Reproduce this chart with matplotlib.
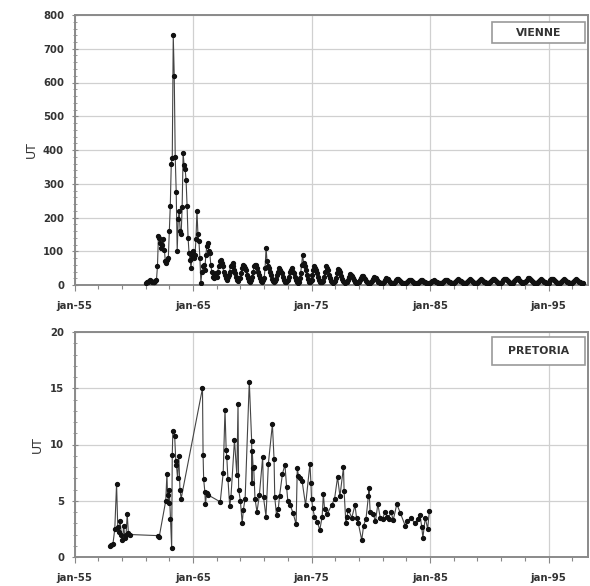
import numpy as np
import matplotlib
matplotlib.use("Agg")
import matplotlib.pyplot as plt
from matplotlib.patches import Rectangle

# ---------------- data ----------------
vienne_start_year = 1961
vienne_monthly = [
    [5, 8, 10, 12, 14, 12, 10, 9, 8, 10, 12, 15],            # 1961
    [55, 145, 140, 125, 110, 120, 135, 105, 70, 65, 75, 80],  # 1962
    [160, 235, 360, 375, 740, 620, 380, 275, 100, 195, 220, 160],  # 1963
    [150, 230, 390, 355, 345, 310, 235, 140, 95, 75, 50, 85],  # 1964
    [100, 80, 90, 135, 220, 150, 130, 80, 5, 40, 55, 60],     # 1965
    [45, 90, 115, 125, 100, 95, 60, 40, 25, 20, 30, 35],      # 1966
    [25, 40, 55, 70, 75, 65, 55, 40, 30, 20, 15, 25],         # 1967
    [30, 40, 55, 60, 65, 55, 45, 35, 25, 15, 12, 20],         # 1968
    [20, 35, 50, 60, 55, 50, 45, 30, 20, 12, 10, 15],         # 1969
    [25, 40, 55, 60, 60, 50, 40, 30, 20, 12, 10, 15],         # 1970
    [20, 50, 110, 70, 55, 50, 40, 30, 18, 12, 8, 12],         # 1971
    [18, 30, 40, 50, 45, 40, 35, 25, 15, 10, 8, 12],          # 1972
    [15, 25, 40, 45, 50, 40, 35, 25, 15, 10, 6, 10],          # 1973
    [20, 35, 60, 90, 65, 55, 45, 30, 18, 10, 8, 12],          # 1974
    [15, 30, 45, 55, 50, 45, 35, 25, 15, 10, 8, 10],          # 1975
    [12, 25, 40, 55, 50, 45, 30, 20, 12, 8, 6, 10],           # 1976
    [12, 22, 35, 48, 45, 38, 28, 18, 12, 8, 6, 8],            # 1977
    [10, 15, 25, 32, 30, 26, 20, 14, 10, 7, 5, 8],            # 1978
    [8, 14, 22, 28, 26, 22, 18, 12, 8, 6, 5, 7],              # 1979
    [8, 12, 18, 24, 22, 20, 15, 10, 8, 6, 5, 6],              # 1980
    [7, 10, 15, 20, 19, 17, 13, 9, 7, 5, 4, 6],               # 1981
    [6, 9, 14, 18, 17, 15, 12, 9, 6, 5, 4, 5],                # 1982
    [6, 9, 13, 16, 16, 14, 11, 8, 6, 5, 4, 5],                # 1983
    [6, 8, 11, 14, 14, 13, 10, 8, 6, 5, 4, 5],                # 1984
    [6, 8, 11, 13, 14, 12, 10, 8, 7, 6, 5, 6],                # 1985
    [7, 9, 12, 15, 16, 15, 13, 10, 8, 7, 6, 7],               # 1986
    [7, 9, 13, 16, 17, 15, 13, 11, 9, 7, 6, 7],               # 1987
    [6, 9, 12, 15, 18, 16, 14, 11, 8, 7, 5, 7],               # 1988
    [7, 10, 13, 16, 17, 16, 13, 10, 8, 6, 5, 6],              # 1989
    [6, 9, 12, 16, 18, 17, 14, 11, 8, 6, 5, 7],               # 1990
    [7, 10, 14, 17, 19, 17, 14, 11, 9, 7, 6, 7],              # 1991
    [7, 11, 15, 19, 22, 20, 16, 12, 9, 7, 6, 8],              # 1992
    [8, 12, 16, 20, 22, 19, 15, 11, 9, 7, 6, 7],              # 1993
    [7, 10, 13, 16, 18, 16, 13, 10, 8, 6, 5, 7],              # 1994
    [7, 10, 14, 17, 19, 17, 14, 11, 8, 7, 6, 7],              # 1995
    [7, 10, 13, 16, 18, 16, 13, 10, 8, 6, 5, 6],              # 1996
    [6, 9, 12, 15, 17, 15, 12, 10, 8, 6, 5, 6],               # 1997
]

pretoria_years = [
    1958.00, 1958.10, 1958.25, 1958.40, 1958.55, 1958.65, 1958.75, 1958.85, 1958.95,
    1959.05, 1959.15, 1959.25, 1959.35, 1959.45, 1959.55, 1959.65,
    1962.05, 1962.15,
    1962.70, 1962.80, 1962.85, 1962.95, 1963.00, 1963.10, 1963.20, 1963.25, 1963.30,
    1963.45, 1963.55, 1963.60, 1963.70, 1963.80, 1963.90, 1964.00,
    1965.80, 1965.85, 1965.90, 1966.00, 1966.05, 1966.15, 1966.30,
    1967.30, 1967.55, 1967.70, 1967.80, 1967.85, 1967.95, 1968.10, 1968.20,
    1968.50, 1968.80, 1968.70, 1968.85, 1969.00, 1969.15, 1969.25, 1969.40,
    1969.75, 1969.95, 1970.00, 1969.98, 1970.08, 1970.12, 1970.23, 1970.40,
    1970.60, 1970.88, 1970.95, 1971.16, 1971.36, 1971.70, 1971.84, 1971.90,
    1972.05, 1972.20, 1972.30, 1972.55, 1972.76, 1972.90, 1973.00, 1973.20,
    1973.45, 1973.70, 1973.80, 1973.90, 1974.00, 1974.20, 1974.50, 1974.87,
    1974.95, 1975.00, 1975.10, 1975.25, 1975.50, 1975.70, 1975.90, 1976.00,
    1976.10, 1976.30, 1976.70, 1976.95, 1977.20, 1977.40, 1977.70, 1977.75,
    1977.90, 1978.00, 1978.10, 1978.40, 1978.67, 1978.80, 1978.95, 1979.24,
    1979.40, 1979.60, 1979.80, 1979.85, 1979.95, 1980.20, 1980.40, 1980.60,
    1980.80, 1981.00, 1981.20, 1981.40, 1981.50, 1981.70, 1981.90, 1982.20,
    1982.50, 1982.90, 1983.10, 1983.40, 1983.70, 1984.00, 1984.16, 1984.30,
    1984.40, 1984.60, 1984.80, 1984.95,
]
pretoria_values = [
    0.95, 1.05, 1.2, 2.5, 6.5, 2.7, 2.2, 3.2, 2.0,
    1.5, 2.8, 1.7, 2.0, 3.8, 2.1, 2.0,
    1.9, 1.8,
    5.0, 7.4, 5.5, 4.8, 6.0, 3.4, 0.8, 9.1, 11.2,
    10.8, 8.5, 8.2, 7.0, 9.0, 6.0, 5.2,
    15.0, 9.1, 6.9, 5.8, 4.7, 5.7, 5.5,
    4.9, 7.5, 13.1, 9.5, 8.9, 6.9, 4.5, 5.3,
    10.4, 13.6, 7.3, 6.0, 5.0, 3.0, 4.2, 5.2,
    15.6, 10.3, 9.4, 6.6, 7.9, 8.0, 5.2, 4.0,
    5.5, 8.9, 5.3, 3.6, 8.3, 11.8, 8.7, 5.3,
    3.7, 4.3, 5.4, 7.4, 8.2, 6.2, 5.0, 4.6,
    3.9, 2.9, 7.9, 7.2, 7.0, 6.8, 4.6, 8.3,
    6.6, 5.2, 4.4, 3.6, 3.1, 2.4, 3.6, 5.6,
    4.3, 3.8, 4.6, 5.2, 7.1, 5.4, 8.0, 5.9,
    3.0, 3.6, 4.2, 3.5, 4.6, 3.5, 3.0, 1.5,
    2.8, 3.4, 5.4, 6.1, 4.0, 3.8, 3.2, 4.7,
    3.5, 3.4, 4.0, 3.6, 3.4, 4.0, 3.3, 4.7,
    3.9, 2.8, 3.2, 3.5, 3.0, 3.4, 3.7, 2.7,
    1.7, 3.5, 2.5, 4.1,
]

tick_years = [1955, 1965, 1975, 1985, 1995]
tick_labels = ["jan-55", "jan-65", "jan-75", "jan-85", "jan-95"]
panel_names = ["VIENNE", "PRETORIA"]
y_label = "UT"

# ---------------- plot ----------------
vien_vals = np.concatenate([np.array(r, dtype=float) for r in vienne_monthly])
vien_x = vienne_start_year + np.arange(len(vien_vals)) / 12.0
order = np.argsort(pretoria_years, kind="stable")
pre_x = np.array(pretoria_years)[order]
pre_y = np.array(pretoria_values)[order]

W, H = 590, 586
fig = plt.figure(figsize=(W / 100, H / 100), dpi=100)
fig.patch.set_facecolor("white")

def frac_axes(l, t, r, b):
    return fig.add_axes([l / W, 1 - b / H, (r - l) / W, (b - t) / H])

ax1 = frac_axes(74.5, 15, 588, 285)
ax2 = frac_axes(74.5, 332, 588, 557)

xmax = 1955 + (588 - 74.5) / 11.85
txt = "#333333"
tick_font = dict(family="DejaVu Sans", weight="bold", size=7.3)

for ax, x, y, ymax, ystep, yminor, name, box in [
    (ax1, vien_x, vien_vals, 800, 100, 20, panel_names[0], (0.8125, 0.895, 0.994, 0.975)),
    (ax2, pre_x, pre_y, 20, 5, 1, panel_names[1], (0.8125, 0.853, 0.994, 0.979)),
]:
    ax.set_xlim(1955, xmax)
    ax.set_ylim(0, ymax)
    ax.set_xticks(tick_years)
    ax.set_xticklabels(tick_labels, fontdict=tick_font, color=txt)
    ax.set_xticks(np.arange(1957, 1999, 2), minor=True)
    yt = np.arange(0, ymax + ystep / 2, ystep)
    ax.set_yticks(yt)
    ax.set_yticklabels([f"{int(v)}" for v in yt], fontdict=tick_font, color=txt)
    ax.set_yticks(np.arange(0, ymax + yminor / 2, yminor), minor=True)
    ax.tick_params(axis="x", which="major", direction="out", length=4, width=0.8,
                   color="#888888", pad=7.5)
    ax.tick_params(axis="x", which="minor", direction="out", length=3, width=0.8,
                   color="#888888")
    ax.tick_params(axis="y", which="major", direction="inout", length=5, width=0.8,
                   color="#888888", pad=5)
    ax.tick_params(axis="y", which="minor", direction="inout", length=3, width=0.7,
                   color="#999999")
    ax.grid(True, which="major", color="#d0d0d0", linewidth=0.9)
    ax.set_axisbelow(True)
    for s in ax.spines.values():
        s.set_color("#8a8a8a")
        s.set_linewidth(1.4)
    ax.plot(x, y, color="#444444", linewidth=0.8, marker="o", markersize=2.8,
            markerfacecolor="#111111", markeredgecolor="#111111", zorder=3)
    ax.set_ylabel(y_label, fontsize=9, color=txt, family="DejaVu Sans")
    l, b, r, t = box
    ax.add_patch(Rectangle((l, b), r - l, t - b, transform=ax.transAxes,
                           facecolor="white", edgecolor="#9a9a9a", linewidth=1.2,
                           zorder=4))
    ax.text((l + r) / 2, (b + t) / 2, name, transform=ax.transAxes, ha="center",
            va="center", fontsize=7.8, fontweight="bold", color="#333333",
            family="DejaVu Sans", zorder=5)

fig.savefig("out.png", dpi=100, facecolor="white")
